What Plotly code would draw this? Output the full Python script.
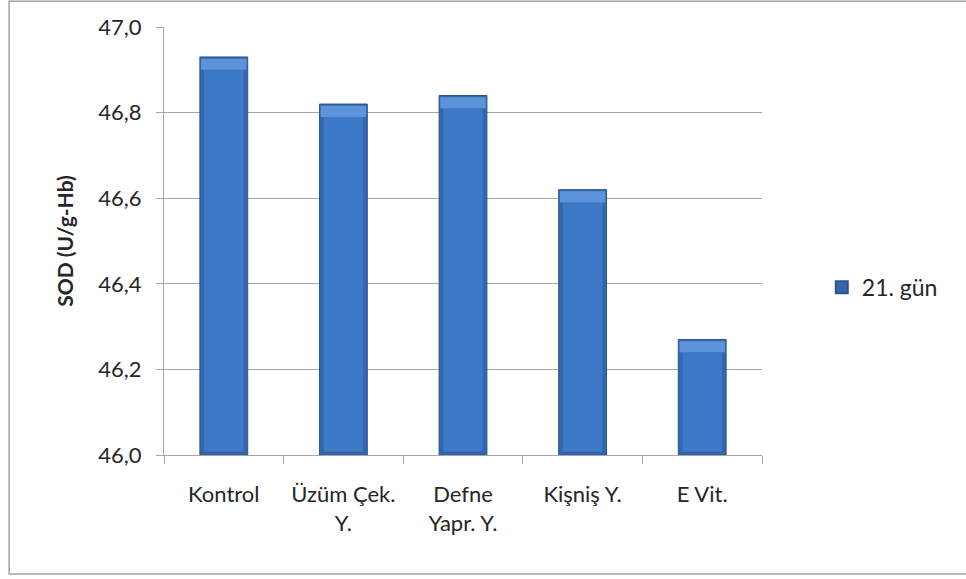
import plotly.graph_objects as go

# SOD activity on day 21 per treatment group
categories = ["Kontrol", "Üzüm Çek.<br>Y.", "Defne<br>Yapr. Y.", "Kişniş Y.", "E Vit."]
sod_values = [46.93, 46.82, 46.84, 46.62, 46.27]
series_name = "21. gün"
y_ticks = [46.0, 46.2, 46.4, 46.6, 46.8, 47.0]

FONT = "Lato, Carlito, Calibri, sans-serif"
GRID = "#a6a6a6"
TEXT = "#262626"
AXIS_MIN = 46.0

fig = go.Figure()

# main bars (the darker colour shows as the bevelled edges)
fig.add_trace(go.Bar(
    x=categories, y=[v - AXIS_MIN for v in sod_values], base=AXIS_MIN,
    width=0.4, name=series_name,
    marker=dict(color="#3466ab", line=dict(color="#2a568f", width=1)),
    showlegend=True,
))

# lighter face inside the bevel
cap = 0.03
fig.add_trace(go.Bar(
    x=categories, y=[v - AXIS_MIN - cap - 0.008 for v in sod_values], base=AXIS_MIN + 0.008,
    width=0.33, marker=dict(color="#3c79c6", line=dict(width=0)),
    showlegend=False, hoverinfo="skip",
))

# highlight along the top of each bar
fig.add_trace(go.Bar(
    x=categories, y=[cap - 0.004] * len(sod_values), base=[v - cap for v in sod_values],
    width=0.38, marker=dict(color="#5d93da", line=dict(width=0)),
    showlegend=False, hoverinfo="skip",
))

fig.update_layout(
    width=966, height=579,
    margin=dict(l=164, r=204, t=27, b=124),
    paper_bgcolor="white", plot_bgcolor="white",
    barmode="overlay",
    separators=",.",
    font=dict(family=FONT, size=22, color=TEXT),
    legend=dict(
        x=1.1, y=0.392, xanchor="left", yanchor="middle",
        font=dict(family=FONT, size=23, color=TEXT),
        bgcolor="rgba(0,0,0,0)", itemsizing="constant",
    ),
    shapes=[dict(
        type="rect", xref="paper", yref="paper",
        x0=-0.259, x1=1.4, y0=-0.278, y1=1.06,
        line=dict(color="#a0a0a0", width=1.5), fillcolor="rgba(0,0,0,0)",
        layer="below",
    )],
)

fig.update_xaxes(
    type="category", tickson="boundaries",
    ticks="outside", ticklen=8, tickcolor=GRID,
    showline=True, linecolor=GRID, linewidth=1,
    showgrid=False, ticklabelstandoff=20,
    tickfont=dict(family=FONT, size=22, color=TEXT),
)

fig.update_yaxes(
    range=[AXIS_MIN, 47.0], tickvals=y_ticks, tickformat=".1f",
    ticks="outside", ticklen=7, tickcolor=GRID,
    showline=True, linecolor=GRID, linewidth=1,
    showgrid=True, gridcolor=GRID, gridwidth=1,
    ticklabelstandoff=10,
    tickfont=dict(family=FONT, size=22, color=TEXT),
    title=dict(text="<b>SOD (U/g-Hb)</b>", standoff=18,
               font=dict(family=FONT, size=21, color=TEXT)),
    zeroline=False,
)

fig.write_html("out.html")
